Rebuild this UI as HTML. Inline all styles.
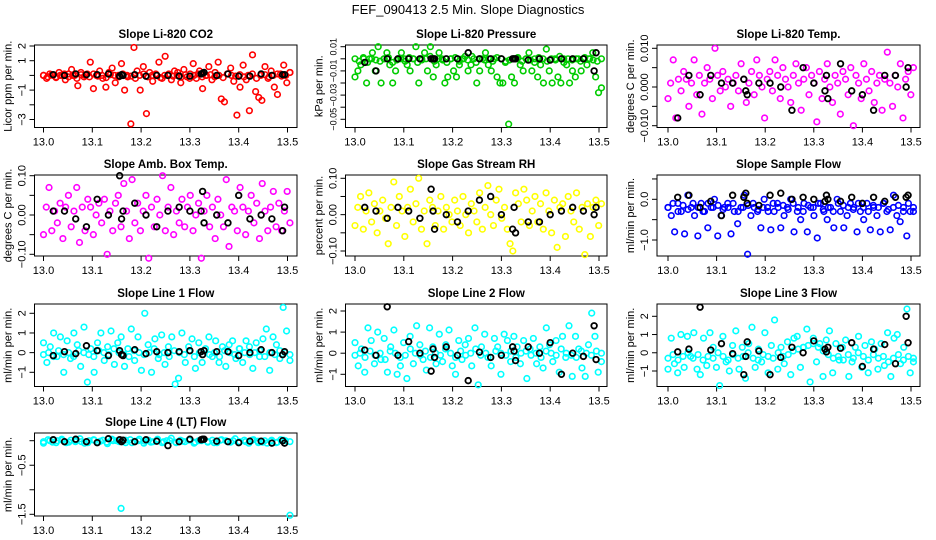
<!DOCTYPE html>
<html><head><meta charset="utf-8"><style>
html,body{margin:0;padding:0;background:#fff}
svg{display:block;font-family:"Liberation Sans",Arial,sans-serif}
</style></head><body>
<svg id="chart" width="936" height="540" viewBox="0 0 936 540">
<rect width="936" height="540" fill="#fff"/>
<text x="468" y="14" text-anchor="middle" font-size="13">FEF_090413  2.5 Min. Slope Diagnostics</text>
</svg>
<script>
const xTickLabels = ["13.0","13.1","13.2","13.3","13.4","13.5"];
const blackTimes = [13.02,13.043,13.066,13.088,13.11,13.133,13.156,13.16,13.163,13.187,13.21,13.232,13.255,13.278,13.3,13.323,13.326,13.329,13.355,13.378,13.4,13.423,13.446,13.468,13.49,13.494];

const co2Vals = [0,-0.2,0.1,0,-0.1,0.2,0,-0.3,0.1,0.4,0,-0.7,0.2,-0.1,0.1,0.9,-0.9,0,0.3,-0.2,-0.8,0.2,0.5,-0.5,0,0.8,-1.0,-0.1,-3.3,1.9,0.3,-1.0,0.6,-2.6,0.2,-0.4,0.1,0.9,-0.2,1.3,0,-0.3,0.3,0.2,-0.5,0.4,-0.1,0.1,0.8,-0.2,0.3,-0.9,0,0.6,-0.3,0.2,0.9,-1.6,-1.8,0.1,0.5,-0.4,-2.7,-0.8,0.7,-0.3,-2.4,1.4,-1.1,-1.5,-1.7,0.6,-0.2,0.3,-0.8,-1.3,0.1,0.7,-0.5,0.2];
const co2Band = [0,-0.1,0.05,-0.15,0,0.1,-0.1,0,-0.2,0.05,0,-0.1,0.1,-0.05,0,-0.15,0.05,0,-0.1,0.1,0,-0.05,-0.2,0,0.1,-0.1,0,0.05,-0.15,0,0.1,-0.05,0,-0.1,0.05,-0.2,0,0.1,-0.1,0,0.05,-0.1,0,-0.15,0.1,0,-0.05,0.05,-0.1,0,0.1,-0.2,0,0.05,-0.1,0,0.1,-0.05,0,0.2];
const co2Black = [0.05,0,0.1,0.05,0.05,0.1,-0.05,0.05,0,0.05,-0.05,0,0,-0.05,-0.05,0.1,0.15,0.2,0,0.1,-0.05,-0.05,0.1,0,0.05,0.05];

const presVals = [-0.015,-0.01,-0.005,0,-0.02,0,0.005,-0.01,0.01,-0.02,0,0.005,-0.005,-0.02,-0.01,0,0.005,0,-0.005,-0.01,0,0.01,-0.02,0,0.005,-0.01,0.01,-0.015,-0.005,0.005,0,-0.02,-0.015,0,-0.01,-0.015,-0.005,0,0.002,-0.01,-0.005,0,-0.02,-0.01,0,0.005,-0.005,-0.01,0,-0.015,-0.02,-0.02,-0.002,-0.054,-0.015,-0.02,0,-0.005,-0.01,0,0.005,-0.01,0,-0.015,-0.005,-0.02,0.008,-0.01,-0.02,0,-0.015,-0.02,0,-0.005,-0.02,-0.01,-0.015,0,-0.01,0,-0.005,0,0.005,-0.015,-0.028,-0.024];
const presBand = [0,-0.002,0.001,-0.003,0,-0.001,-0.002,0,0.001,-0.003,-0.001,0,-0.002,0.001,0,-0.003,-0.001,0,0.002,-0.002,0,-0.001,-0.003,0,0.001,-0.002,0,-0.001,0.002,-0.003,0,-0.001,0,-0.002,0.001,0,-0.003,-0.001,0,0.001,-0.002,0,-0.001,-0.003,0.001,0,-0.002,0,-0.001,0.002,-0.003,0,-0.001,0,-0.002,0.001,0,-0.001,-0.002,0];
const presBlack = [-0.003,-0.01,0,0,0,0,0,0,0,0,0,0.005,0,0,0,0,0,0,-0.001,0,-0.001,0,0,0,-0.01,0.005];

const tempVals = [-0.003,0.001,0.007,-0.008,0.002,-0.001,0.004,0.002,-0.005,0.001,0.007,-0.002,0.003,-0.007,0.001,0.005,0.002,-0.003,0.010,0.003,-0.001,0.004,0,0.002,-0.005,0.001,0.003,-0.001,0.006,0.002,-0.004,0.001,0.004,-0.002,0.007,0.003,0,-0.008,0.002,0.004,-0.001,0.007,0.003,-0.003,0.005,0.002,0,-0.004,0.003,0.006,0.001,-0.006,0.002,0.005,-0.002,0.003,0.001,-0.009,0.004,-0.003,0.002,0.006,0,-0.004,0.003,0.001,-0.007,0.004,0.002,-0.002,0.005,-0.010,0.003,0.001,-0.003,0.006,0.002,-0.001,0.004,-0.004,0.001,0.003,-0.006,0.002,0.009,0.001,-0.005,0.003,0,0.006,-0.008,0.002,0.004,-0.002,0.005];
const tempBlack = [-0.008,0.003,-0.002,0.003,0.001,0.001,0.002,-0.001,-0.002,0.001,0.001,0,-0.006,0.005,0.001,-0.001,0.003,-0.003,0.006,-0.001,-0.002,-0.006,0.003,0.003,0,0.005];

const ambVals = [-0.05,0.02,0.07,-0.04,0.01,-0.02,0.03,-0.06,0.02,0.05,-0.03,0.01,0.07,-0.07,0.02,-0.04,0.04,0.02,-0.05,0,0.03,-0.02,0.04,-0.1,0.01,-0.04,0.03,0.05,-0.03,0.08,0.01,-0.06,0.09,-0.02,0.03,-0.04,0.01,0.05,-0.11,0.02,-0.03,0.04,0,0.10,-0.04,0.02,0.07,-0.05,0.01,-0.02,0.04,-0.03,0.02,0.05,-0.04,0,0.03,-0.11,0.01,0.05,-0.03,0.02,-0.06,0.04,0,-0.03,0.09,-0.08,0.02,0.01,-0.04,0.07,0.02,-0.05,0.01,0.05,-0.02,0.03,-0.06,0.08,0.01,-0.04,0.02,0.06,-0.03,0.03,-0.04,0.01,0.06,-0.02];
const ambBlack = [0.01,0.01,-0.01,-0.03,0.04,0,0.1,-0.01,0.01,0.03,0,-0.03,0.01,0.02,0.01,0.01,0.06,-0.02,0,-0.02,0.05,-0.01,0,-0.01,-0.04,0.02];

const rhVals = [-0.03,0.02,0.05,-0.04,0.01,0.06,-0.02,0.03,-0.05,0.01,0.04,-0.01,-0.08,0.02,0.09,-0.03,0.05,0.01,-0.06,0.02,0.07,-0.02,0.03,0.10,-0.04,0.01,-0.08,0.04,0.02,-0.03,0.01,0.05,-0.04,0.02,0,-0.02,0.04,0.01,-0.03,0.05,0,-0.05,0.03,0.01,-0.02,0.06,-0.04,0.02,0.08,0,-0.03,0.04,0.07,-0.01,0.02,-0.04,-0.08,-0.1,0.06,0.03,-0.02,0.07,0.04,-0.03,0.01,0.05,-0.02,0.03,-0.04,0.06,0.01,-0.05,0.04,-0.09,0.02,0.03,-0.06,0.05,0.01,-0.02,0.06,-0.04,0.02,-0.11,0.03,-0.06,0.02,0.04,-0.03,0.03];
const rhBlack = [0.02,0.01,-0.01,0.02,0.01,-0.01,0.07,0.01,-0.04,0,-0.02,0.01,0.04,0.05,0,-0.04,0.02,-0.05,-0.02,-0.02,0,0.01,0.02,0.01,0,0.02];

const flowVals = [-0.2,-0.4,-0.8,-0.1,-0.3,-0.85,0.1,-0.2,-0.4,-0.9,-0.1,-0.3,-0.7,-0.2,0,-0.9,-0.4,-0.2,-0.1,-0.85,-0.3,-0.6,-0.2,0.1,-1.35,-0.4,-0.2,-0.3,-0.7,0,-0.2,-0.75,-0.3,-0.1,-0.7,-0.4,-0.2,0,-0.8,-0.3,-0.5,-0.1,-0.8,-0.2,-0.4,-0.95,-0.1,-0.3,-0.5,-0.2,-0.7,0,-0.3,-0.7,-0.4,-0.1,-0.2,-0.8,-0.3,-0.5,-0.1,-0.75,-0.2,-0.4,-0.8,-0.1,-0.3,-0.75,0.1,-0.4,-0.55,-0.2,-0.9,-0.3,-0.3];
const flowBand = [-0.2,-0.1,-0.3,-0.15,-0.25,-0.1,-0.2,-0.3,-0.1,-0.2,-0.15,-0.25,-0.2,-0.1,-0.3,-0.2,-0.15,-0.1,-0.25,-0.2,-0.3,-0.1,-0.2,-0.15,-0.25,-0.1,-0.2,-0.3,-0.15,-0.2,-0.1,-0.25,-0.2,-0.3,-0.1,-0.15,-0.2,-0.25,-0.1,-0.2,-0.3,-0.15,-0.2,-0.1,-0.25,-0.2,-0.15,-0.3,-0.1,-0.2];
const flowBlack = [0.05,0.1,-0.2,-0.05,-0.4,0.1,0.05,0.15,-0.1,-0.15,0.1,0.15,0,0.05,0,-0.05,0.1,0,-0.05,0.05,-0.1,0.05,-0.05,0.05,0.05,0.1];

const l1Vals = [0.5,-0.5,0.3,1.0,-0.2,0.8,-1.0,0.6,-0.3,1.0,0.4,-0.7,1.3,-1.5,0.2,-1.0,0.5,1.0,-0.4,0.3,1.1,-0.6,0.5,0.8,-0.7,0.2,1.2,-0.4,0.8,-0.9,2.0,0.4,-1.0,0.7,-0.3,0.9,-0.6,0.3,0.8,-1.6,-1.3,1.0,-0.5,0.3,0.7,-0.8,0.5,-0.5,0.2,0.8,-0.2,0.6,-0.5,0.3,-0.7,0.4,0.6,-0.3,0.2,-0.5,0.6,0.3,-0.8,0.5,-0.2,0.7,1.2,-0.9,0.8,0.4,-0.3,2.3,1.1,-0.4];
const l1Band = [-0.1,0,-0.2,0.1,-0.1,0,-0.2,0.1,0,-0.1,-0.2,0.1,0,-0.1,0.2,0,-0.1,-0.2,0.1,0,-0.1,0,0.2,-0.1,0,-0.2,0.1,0,-0.1,0.1,-0.2,0,0.1,-0.1,0,-0.2,0.1,0,-0.1,0.2,0,-0.1,0,0.1,-0.2,0,-0.1,0.1,0,-0.1];
const l1Black = [-0.15,0.05,-0.05,0.35,0.1,-0.15,0.1,-0.1,-0.15,0.15,-0.05,0.05,0,0.05,0.1,0.05,-0.1,0.1,0.05,0.05,-0.15,0,0.15,0,-0.1,0.05];

const l2Vals = [0.5,-0.6,0.2,-0.9,1.2,0.6,-0.5,1.0,-0.3,0.7,-0.9,0.3,1.1,-1.0,-0.6,0.5,-1.2,0.8,-0.5,1.3,0.4,-0.3,-0.8,1.2,0.3,-0.5,0.9,-0.4,0.4,1.1,-0.6,-1.0,0.6,-0.3,0.4,0.7,-0.6,1.2,-1.5,0.3,0.9,-0.2,-0.6,0.7,0.3,-1.0,0.9,0.6,-0.4,0.8,0.3,-0.5,0.6,-1.2,0.2,0.7,-0.5,0.3,-0.7,1.2,0.4,-0.4,0.6,-0.9,0.8,-0.2,1.3,-1.1,0.8,0.2,-0.7,-1.1,0.4,1.9,0.8,-0.9,-0.4];
const l2Band = [-0.1,0,-0.2,0.1,-0.1,0,-0.3,0.1,0,-0.2,-0.1,0.2,0,-0.1,0.1,-0.2,0,-0.1,0.2,0,-0.2,0.1,-0.1,0,0.2,-0.1,0,-0.2,0.1,0,-0.1,0.1,-0.2,0,0.1,-0.1,0,-0.2,0.1,0,-0.1,0.2,0,-0.1,-0.2,0.1,0,-0.1,0.1,0];
const l2Black = [0.15,-0.1,2.2,-0.1,0.55,0,-0.85,0.2,-0.2,0.3,-0.1,-1.3,0.05,-0.2,-0.1,0.3,0.1,-0.35,0.3,0,0.5,-1.0,0,-0.15,1.3,-0.3];

const l3Vals = [-0.9,0.8,-0.6,-1.1,1.0,-0.8,0.9,-0.2,1.1,-0.9,-1.2,0.8,-0.7,1.1,0.3,-0.8,-1.8,0.9,-0.5,-1.0,0.4,1.2,-0.9,0.3,-1.4,0.5,1.4,-0.8,0.2,-0.5,1.1,-1.1,0.4,1.8,-0.9,0.3,-0.6,0.6,-1.2,0.8,0.9,-0.8,0.3,1.3,-1.6,0.8,-0.5,0.5,-1.3,0.7,1.2,-1.1,0.5,-0.4,0.3,0.7,-1.3,-0.5,0.3,0.9,-0.8,0.4,-1.1,0.6,0.2,-0.9,0.5,-0.7,1.1,-1.3,0.8,1.0,-0.6,0.3,2.4,-1.1,-0.5];
const l3Band = [-0.3,-0.1,-0.4,-0.2,0,-0.3,-0.1,-0.4,-0.2,-0.3,0,-0.2,-0.4,-0.1,-0.3,-0.2,0,-0.3,-0.4,-0.1,-0.2,-0.3,0,-0.2,-0.1,0.1,0.2,0.3,0.4,0.5,0.3,0.1,-0.1,-0.3,-0.2,-0.4,-0.1,-0.3,0,-0.2,-0.4,-0.1,-0.3,-0.2,-0.5,-0.3,-0.1,-0.4,-0.2,-0.3];
const l3Black = [0.05,0.2,2.5,0.15,0.5,-0.05,-1.2,-0.2,0.6,0.1,-1.2,-0.25,0.3,0,0.65,0.2,0.05,0.3,0.25,0.55,-0.75,0.2,0.45,-0.6,2.0,0.55];

const l4Vals = [-0.05,0.02,-0.03,0,0.03,-0.04,0.01,-0.02,0.04,-0.05,0,0.02,-0.03,0.01,-0.06,0.03,0,-1.38,-0.04,0.02,-0.01,0.03,-0.05,0.01,-0.02,0.03,-0.04,0,0.05,-0.03,0.01,-0.02,0.02,-0.05,0,0.03,-0.03,0.01,-0.04,0.02,0,-0.03,0.04,-0.02,0.01,-0.05,0.02,-0.01,-0.03,-0.05,0.01,-0.04,0.02,0,-1.52];
const l4Band = [-0.02,0,-0.04,0.01,-0.03,0,-0.02,-0.04,0.01,-0.01,-0.03,0,-0.02,0.01,-0.04,0,-0.01,-0.03,0.01,-0.02,0,-0.04,-0.01,0.01,-0.03,0,-0.02,-0.04,0.01,-0.01,0,-0.03,-0.02,0.01,-0.04,0,-0.01,-0.03,0.01,-0.02];
const l4Black = [0.02,-0.02,0.03,-0.02,-0.04,0.04,0.02,-0.02,0.01,-0.02,0.02,-0.01,-0.1,-0.02,0.03,0.02,0.03,0.03,-0.01,-0.02,-0.04,-0.01,-0.01,-0.05,0,-0.05];

const NS = "http://www.w3.org/2000/svg";
const svg = document.getElementById("chart");
function mk(tag, attrs, parent){
  const e = document.createElementNS(NS, tag);
  for (const k in attrs) e.setAttribute(k, attrs[k]);
  (parent || svg).appendChild(e);
  return e;
}
const cols = [{l:34.5,r:297,x0:43.5,x1:287.5},{l:345.5,r:607,x0:355,x1:599},{l:657,r:920,x0:668,x1:911}];
const rows = [{t:45,b:127.5},{t:175,b:256},{t:304,b:386.5},{t:433,b:516}];

const panels = [
 {key:"co2",title:"Slope Li-820 CO2",ylab:"Licor ppm per min.",c:0,r:0,color:"#ff0000",v1:2,p1:46,v2:-3,p2:119.5,ticks:[2,1,0,-1,-2,-3],labels:["2","1","","\u22121","","\u22123"],fs:11,vals:co2Vals,band:co2Band,black:co2Black},
 {key:"pressure",title:"Slope Li-820 Pressure",ylab:"kPa per min.",c:1,r:0,color:"#00cc00",v1:0.01,p1:46.7,v2:-0.05,p2:119.3,ticks:[0.01,0,-0.01,-0.02,-0.03,-0.04,-0.05],labels:["0.01","","\u22120.01","","\u22120.03","","\u22120.05"],fs:9,vals:presVals,band:presBand,black:presBlack},
 {key:"temp",title:"Slope Li-820 Temp.",ylab:"degrees C per min.",c:2,r:0,color:"#ff00ff",v1:0.01,p1:48.3,v2:-0.01,p2:125.7,ticks:[0.01,0.005,0,-0.005,-0.01],labels:["0.010","","0.000","","\u22120.010"],fs:11,vals:tempVals,band:[],black:tempBlack},
 {key:"amb",title:"Slope Amb. Box Temp.",ylab:"degrees C per min.",c:0,r:1,color:"#ff00ff",v1:0.1,p1:175.7,v2:-0.1,p2:254.3,ticks:[0.1,0.05,0,-0.05,-0.1],labels:["0.10","","0.00","","\u22120.10"],fs:11,vals:ambVals,band:[],black:ambBlack},
 {key:"rh",title:"Slope Gas Stream RH",ylab:"percent per min.",c:1,r:1,color:"#ffff00",v1:0.1,p1:178.3,v2:-0.1,p2:251,ticks:[0.1,0.05,0,-0.05,-0.1],labels:["0.10","","0.00","","\u22120.10"],fs:11,vals:rhVals,band:[],black:rhBlack},
 {key:"sample",title:"Slope Sample Flow",ylab:"ml/min per min.",c:2,r:1,color:"#0000ff",v1:0,p1:199.3,v2:-1,p2:240,ticks:[0.5,0,-0.5,-1],labels:["","0.0","","\u22121.0"],fs:11,vals:flowVals,band:flowBand,black:flowBlack},
 {key:"line1",title:"Slope Line 1 Flow",ylab:"ml/min per min.",c:0,r:2,color:"#00ffff",v1:2,p1:313.3,v2:-1,p2:372.3,ticks:[2,1,0,-1],labels:["2","1","0","\u22121"],fs:11,vals:l1Vals,band:l1Band,black:l1Black},
 {key:"line2",title:"Slope Line 2 Flow",ylab:"ml/min per min.",c:1,r:2,color:"#00ffff",v1:2,p1:311,v2:-1,p2:374.3,ticks:[2,1,0,-1],labels:["2","1","0","\u22121"],fs:11,vals:l2Vals,band:l2Band,black:l2Black},
 {key:"line3",title:"Slope Line 3 Flow",ylab:"ml/min per min.",c:2,r:2,color:"#00ffff",v1:2,p1:316.3,v2:-1,p2:371,ticks:[2,1,0,-1],labels:["2","1","0","\u22121"],fs:11,vals:l3Vals,band:l3Band,black:l3Black},
 {key:"line4",title:"Slope Line 4 (LT) Flow",ylab:"ml/min per min.",c:0,r:3,color:"#00ffff",v1:0,p1:440.7,v2:-1.5,p2:514.3,ticks:[0,-0.5,-1,-1.5],labels:["","\u22120.5","","\u22121.5"],fs:11,vals:l4Vals,band:l4Band,black:l4Black}
];

panels.forEach(p => {
  const col = cols[p.c], row = rows[p.r];
  const xs = t => col.x0 + (t - 13) / 0.5 * (col.x1 - col.x0);
  const ys = v => p.p1 + (v - p.v1) / (p.v2 - p.v1) * (p.p2 - p.p1);
  const g = mk("g", {});
  
  
  const ttl = mk("text", {x:(col.l+col.r)/2, y:row.t-7, "text-anchor":"middle", "font-size":"11.5", "font-weight":"bold"}, g);
  ttl.textContent = p.title;
  
  
  const box = mk("rect", {x:col.l, y:row.t, width:col.r-col.l, height:row.b-row.t, fill:"none", stroke:"#000", "stroke-width":"1"}, g);
  
  
  xTickLabels.forEach((lab) => {
    const x = xs(parseFloat(lab));
    mk("line", {x1:x, x2:x, y1:row.b, y2:row.b+5, stroke:"#000"}, g);
    const t = mk("text", {x:x, y:row.b+18, "text-anchor":"middle", "font-size":"11"}, g);
    t.textContent = lab;
    
    
  });
  mk("line", {x1:xs(13), x2:xs(13.5), y1:row.b, y2:row.b, stroke:"#000"}, g);
  const yT = ys(p.ticks[0]), yB = ys(p.ticks[p.ticks.length-1]);
  mk("line", {x1:col.l, x2:col.l, y1:yT, y2:yB, stroke:"#000"}, g);
  p.ticks.forEach((v, i) => {
    const y = ys(v);
    mk("line", {x1:col.l-5, x2:col.l, y1:y, y2:y, stroke:"#000"}, g);
    if (p.labels[i]) {
      const lx = col.l - 9;
      const t = mk("text", {x:lx, y:y, "text-anchor":"middle", "font-size":p.fs, transform:`rotate(-90 ${lx} ${y})`}, g);
      t.textContent = p.labels[i];
      
      
    }
  });
  const ax = col.l - 23, ay = (row.t + row.b) / 2;
  const yl = mk("text", {x:ax, y:ay, "text-anchor":"middle", "font-size":"11", transform:`rotate(-90 ${ax} ${ay})`}, g);
  yl.textContent = p.ylab;
  
  
  const n = p.vals.length;
  p.vals.forEach((v, i) => {
    const c = mk("circle", {cx:xs(13 + i * 0.505 / (n - 1)), cy:ys(v), r:2.8, fill:"none", stroke:p.color, "stroke-width":"1.6"}, g);
    
    
  });
  const nb = p.band.length;
  p.band.forEach((v, i) => {
    const c = mk("circle", {cx:xs(13 + i * 0.505 / (nb - 1)), cy:ys(v), r:2.8, fill:"none", stroke:p.color, "stroke-width":"1.6"}, g);
    
    
  });
  p.black.forEach((v, i) => {
    const c = mk("circle", {cx:xs(blackTimes[i]), cy:ys(v), r:2.8, fill:"none", stroke:"#000", "stroke-width":"1.8"}, g);
    
    
  });
});
</script>
</body></html>
